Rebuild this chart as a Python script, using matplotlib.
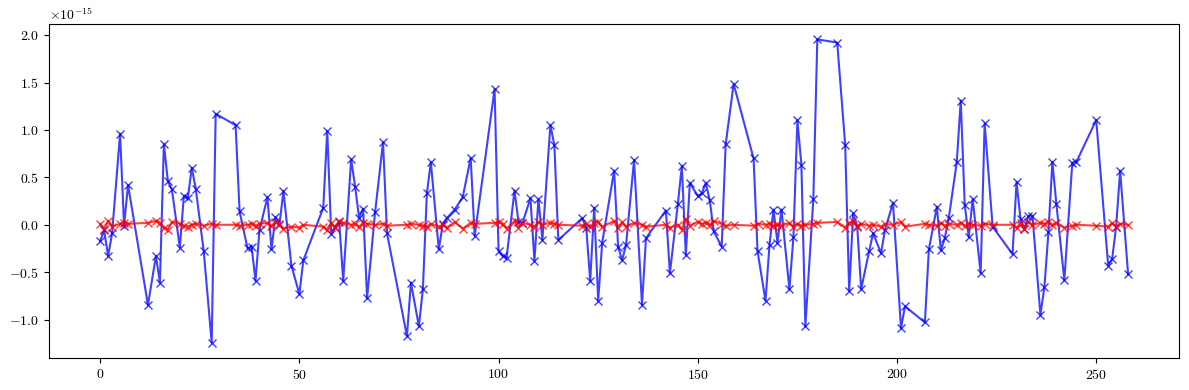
import numpy as np
import matplotlib
matplotlib.use("Agg")
import matplotlib.pyplot as plt

plt.rcParams["font.family"] = "cmr10"
plt.rcParams["mathtext.fontset"] = "cm"
plt.rcParams["axes.formatter.use_mathtext"] = True

# sample positions (shared by both series)
x = [0, 1, 2, 3, 5, 6, 7, 12, 14, 15,
     16, 17, 18, 20, 21, 22, 23, 24, 26, 28,
     29, 34, 35, 37, 38, 39, 40, 42, 43, 44,
     45, 46, 48, 50, 51, 56, 57, 58, 59, 60,
     61, 63, 64, 65, 66, 67, 69, 71, 72, 77,
     78, 80, 81, 82, 83, 85, 86, 87, 89, 91,
     93, 94, 99, 100, 101, 102, 104, 105, 106, 108,
     109, 110, 111, 113, 114, 115, 121, 122, 123, 124,
     125, 126, 129, 130, 131, 132, 134, 136, 137, 142,
     143, 145, 146, 147, 148, 150, 151, 152, 153, 154,
     156, 157, 159, 164, 165, 167, 168, 169, 170, 171,
     173, 174, 175, 176, 177, 179, 180, 185, 187, 188,
     189, 190, 191, 193, 194, 196, 197, 199, 201, 202,
     207, 208, 210, 211, 212, 213, 215, 216, 217, 218,
     219, 221, 222, 224, 229, 230, 231, 232, 233, 234,
     236, 237, 238, 239, 240, 242, 244, 245, 250, 253,
     254, 255, 256, 258]

# blue series, in units of 1e-15
blue = [-0.17, -0.06, -0.33, -0.09, 0.96, -0.01, 0.42, -0.845, -0.33, -0.61,
        0.85, 0.46, 0.375, -0.24, 0.30, 0.28, 0.60, 0.38, -0.28, -1.245,
        1.17, 1.05, 0.14, -0.25, -0.23, -0.59, -0.05, 0.29, -0.26, 0.08,
        0.00, 0.355, -0.43, -0.73, -0.375, 0.18, 0.99, -0.10, -0.02, 0.03,
        -0.59, 0.69, 0.40, 0.07, 0.17, -0.775, 0.13, 0.87, -0.09, -1.175,
        -0.61, -1.07, -0.68, 0.33, 0.66, -0.26, 0.01, 0.07, 0.16, 0.29,
        0.705, -0.12, 1.43, -0.28, -0.33, -0.35, 0.36, 0.03, 0.02, 0.28,
        -0.38, 0.27, -0.16, 1.05, 0.84, -0.16, 0.07, -0.03, -0.59, 0.18,
        -0.80, -0.19, 0.57, -0.23, -0.375, -0.21, 0.68, -0.845, -0.14, 0.15,
        -0.51, 0.22, 0.62, -0.32, 0.44, 0.305, 0.33, 0.44, 0.26, -0.07,
        -0.23, 0.85, 1.485, 0.70, -0.28, -0.80, -0.21, 0.16, -0.19, 0.16,
        -0.68, -0.13, 1.10, 0.635, -1.07, 0.27, 1.955, 1.92, 0.84, -0.70,
        0.12, -0.01, -0.68, -0.28, -0.09, -0.30, -0.05, 0.23, -1.09, -0.86,
        -1.03, -0.26, 0.19, -0.27, -0.14, 0.07, 0.66, 1.31, 0.21, -0.13,
        0.27, -0.51, 1.07, -0.02, -0.31, 0.45, 0.06, -0.04, 0.095, 0.095,
        -0.95, -0.655, -0.08, 0.66, 0.22, -0.585, 0.655, 0.66, 1.105, -0.43,
        -0.36, -0.02, 0.57, -0.52]

# red series, in units of 1e-15
red = [0.01, -0.04, 0.04, -0.02, 0.01, 0.02, 0.01, 0.02, 0.04, 0.02,
       -0.03, -0.05, 0.03, 0.01, -0.01, -0.02, 0.00, 0.01, -0.01, 0.01,
       0.00, 0.00, -0.01, 0.00, 0.01, -0.01, 0.01, 0.02, -0.01, 0.03,
       0.01, -0.04, -0.02, -0.03, 0.00, -0.02, -0.05, 0.02, -0.03, 0.04,
       0.02, 0.00, 0.01, -0.02, 0.02, 0.01, 0.00, 0.01, -0.01, 0.00,
       0.01, 0.00, -0.01, -0.02, 0.01, -0.02, 0.00, -0.03, 0.03, -0.04,
       0.02, 0.01, 0.02, 0.03, 0.01, -0.04, 0.04, -0.03, 0.02, 0.00,
       -0.02, 0.03, 0.00, 0.02, 0.01, 0.00, -0.01, 0.01, -0.02, 0.02,
       0.03, -0.02, 0.04, -0.03, 0.03, -0.02, 0.02, 0.00, -0.02, 0.00,
       -0.03, 0.00, -0.05, 0.06, -0.01, 0.03, 0.01, 0.02, 0.00, 0.04,
       0.01, -0.01, 0.00, -0.01, 0.01, 0.00, 0.01, -0.01, 0.00, -0.01,
       0.02, -0.02, 0.01, -0.01, 0.00, 0.01, 0.02, 0.03, -0.03, 0.02,
       0.04, -0.02, 0.01, -0.01, 0.00, -0.02, 0.01, 0.00, 0.03, -0.02,
       0.01, 0.00, -0.01, 0.02, -0.01, 0.01, 0.00, 0.02, -0.01, 0.01,
       0.00, -0.01, 0.01, 0.00, 0.00, -0.03, 0.02, -0.04, 0.03, 0.00,
       0.02, 0.01, 0.03, 0.00, 0.02, -0.03, -0.01, 0.00, -0.01, -0.02,
       0.02, -0.02, 0.01, 0.00]

scale = 1e-15
xs = np.array(x)
yb = np.array(blue) * scale
yr = np.array(red) * scale

fig, ax = plt.subplots(figsize=(11.89, 3.9), dpi=100)
ax.plot(xs, yb, "x-", color="blue", alpha=0.75, lw=1.5)
ax.plot(xs, yr, "x-", color="red", alpha=0.75, lw=1.5)
fig.subplots_adjust(left=0.041, right=0.992, top=0.938, bottom=0.082)
fig.savefig("out.png", dpi=100)
